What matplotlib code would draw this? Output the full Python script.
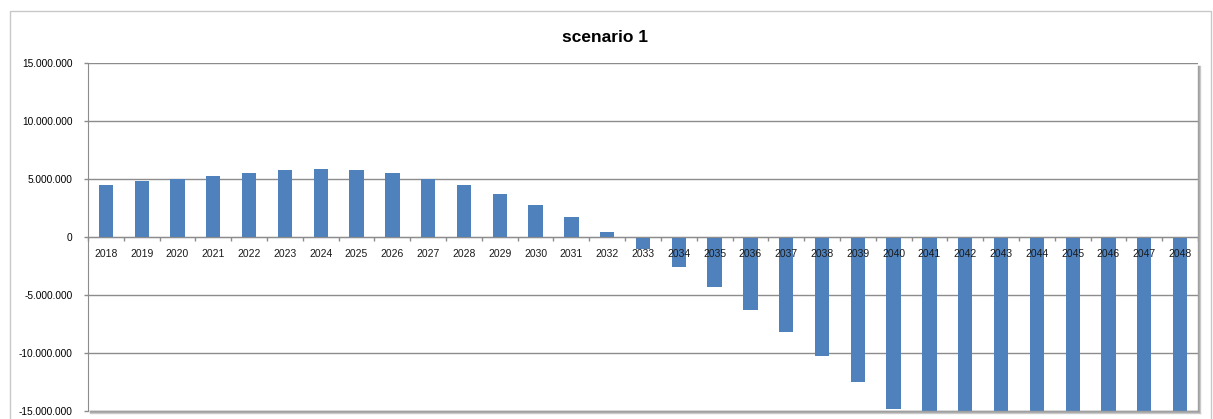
import matplotlib
matplotlib.use("Agg")
import matplotlib.pyplot as plt
from matplotlib.patches import Rectangle
from matplotlib.lines import Line2D
from matplotlib.ticker import FuncFormatter, FixedLocator

# Yearly balance for scenario 1
years = [str(y) for y in range(2018, 2049)]
values = [
    4.48e6, 4.80e6, 5.00e6, 5.26e6, 5.49e6, 5.75e6, 5.83e6, 5.75e6, 5.50e6, 5.00e6,
    4.50e6, 3.70e6, 2.76e6, 1.72e6, 0.46e6, -1.06e6, -2.60e6, -4.34e6, -6.26e6,
    -8.22e6, -10.30e6, -12.47e6, -14.86e6, -17.20e6, -19.50e6, -21.70e6,
    -23.90e6, -26.00e6, -28.00e6, -30.00e6, -31.90e6,
]
y_ticks = [-15e6, -10e6, -5e6, 0, 5e6, 10e6, 15e6]
title = "scenario 1"

bar_color = "#4F81BD"
grid_color = "#8C8C8C"
font = "Liberation Sans"

fig = plt.figure(figsize=(12.13, 4.19), dpi=100)
W, H = 1213, 419

# chart area border
fig.patches.append(Rectangle((10 / W, -0.01), 1201 / W, 1 - 11 / H + 0.01,
                             transform=fig.transFigure, fill=False,
                             edgecolor="#C8C8C8", linewidth=1.0))

left, right, top, bottom = 88, 1198, 63, 411
ax = fig.add_axes([left / W, 1 - bottom / H, (right - left) / W, (bottom - top) / H])

x = list(range(len(years)))
ax.bar(x, values, width=0.4, color=bar_color, zorder=2)

ax.set_xlim(-0.5, len(years) - 0.5)
ax.set_ylim(-15e6, 15e6)

ax.yaxis.set_major_locator(FixedLocator(y_ticks))
ax.yaxis.set_major_formatter(
    FuncFormatter(lambda v, p: "{:,.0f}".format(v).replace(",", ".")))
ax.grid(axis="y", color=grid_color, linewidth=1.0)
ax.tick_params(axis="y", length=3, width=1, color=grid_color, pad=8,
               labelsize=7.3, labelcolor="#000000")
# gridlines behind the bars, category labels in front of them
ax.yaxis.set_zorder(0.5)
ax.xaxis.set_zorder(5)

# category axis sits on the zero line
ax.spines["bottom"].set_position(("data", 0))
ax.spines["bottom"].set_color(grid_color)
ax.spines["bottom"].set_zorder(4)
ax.spines["left"].set_color(grid_color)
ax.spines["top"].set_visible(False)
ax.spines["right"].set_visible(False)
ax.set_xticks(x)
ax.set_xticklabels(years)
ax.set_xticks([i - 0.5 for i in range(len(years) + 1)], minor=True)
ax.tick_params(axis="x", which="major", length=0, pad=8.5, labelsize=7.5,
               labelcolor="#1A1A1A")
ax.tick_params(axis="x", which="minor", length=3, width=1, color=grid_color,
               direction="out")
for lbl in ax.get_xticklabels() + ax.get_yticklabels():
    lbl.set_fontfamily(font)

# plot area frame with a soft shadow on the right and bottom
for off, c in [(2, "#D0D0D0"), (1, "#B0B0B0"), (0, "#A0A0A0")]:
    fig.add_artist(Line2D([(right + off) / W] * 2, [1 - (top + 3) / H, 1 - (bottom + off) / H],
                          transform=fig.transFigure, color=c, linewidth=1))
    fig.add_artist(Line2D([(left + 2) / W, (right + off) / W], [1 - (bottom + off) / H] * 2,
                          transform=fig.transFigure, color=c, linewidth=1))

fig.text(605 / W, 1 - 37 / H, title, ha="center", va="center",
         fontsize=12.5, fontweight="bold", fontfamily=font)

fig.savefig("out.png", dpi=100)
